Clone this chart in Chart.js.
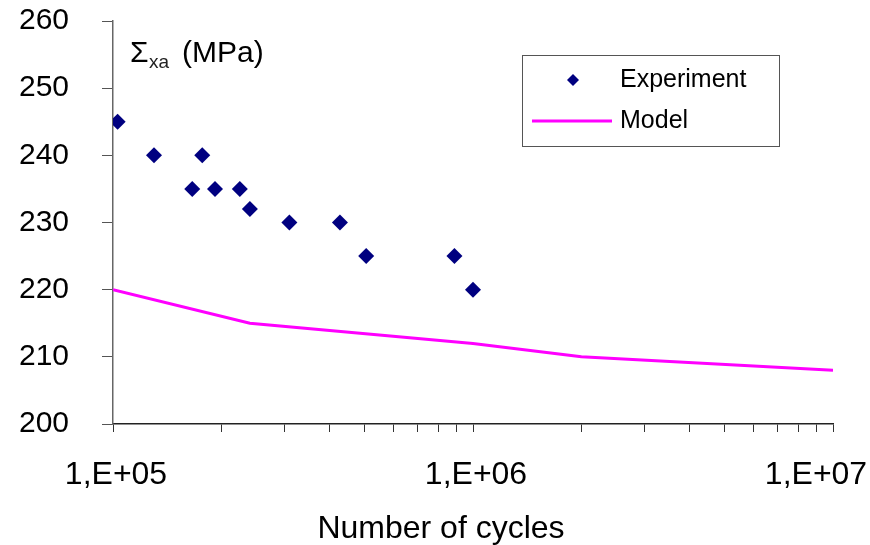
<!DOCTYPE html>
<html>
<head>
<meta charset="utf-8">
<script src="https://cdn.jsdelivr.net/npm/chart.js@4/dist/chart.umd.min.js"></script>
<style>
  html, body { margin: 0; padding: 0; background: #fff; }
  #wrap { width: 870px; height: 545px; }
</style>
</head>
<body>
<div id="wrap"><canvas id="c" width="870" height="545"></canvas></div>
<script>
// ---- data ----
const expCycles = [1.03e5, 1.30e5, 1.66e5, 1.77e5, 1.92e5, 2.25e5, 2.40e5, 3.09e5, 4.27e5, 5.05e5, 8.88e5, 1.0e6];
const expStress = [245, 240, 235, 240, 235, 235, 232, 230, 230, 225, 225, 220];
const modelCycles = [1e5, 2.4e5, 1e6, 2e6, 1e7];
const modelStress = [220, 215, 212, 210, 208];
const xMajorTicks = [1e5, 1e6, 1e7];
const xTickLabels = ['1,E+05', '1,E+06', '1,E+07'];
const xMinorMultipliers = [2, 3, 4, 5, 6, 7, 8, 9];
const yTicks = [200, 210, 220, 230, 240, 250, 260];
const seriesNames = ['Experiment', 'Model'];
const xTitle = 'Number of cycles';

const FONT = "'Liberation Sans', Arial, sans-serif";
Chart.defaults.font.family = FONT;
Chart.defaults.color = '#000';

// keep the last x tick label inside the canvas, as in the reference
const lastLabelShift = {
  id: 'lastLabelShift',
  beforeDraw(chart) {
    const items = chart.scales.x.getLabelItems();
    items.forEach(it => {
      if (it.label === xTickLabels[xTickLabels.length - 1]) {
        it.options.translation[0] -= 20;
      }
    });
  }
};

const legendPlugin = {
  id: 'boxLegend',
  afterDraw(chart) {
    const ctx = chart.ctx;
    ctx.save();
    // legend box
    ctx.strokeStyle = '#555';
    ctx.lineWidth = 1;
    ctx.strokeRect(522.5, 55.5, 257, 91);
    const ds = chart.data.datasets;
    // experiment marker
    ctx.fillStyle = ds[0].backgroundColor;
    const mx = 573, my = 80, r = 6;
    ctx.beginPath();
    ctx.moveTo(mx, my - r); ctx.lineTo(mx + r, my); ctx.lineTo(mx, my + r); ctx.lineTo(mx - r, my);
    ctx.closePath(); ctx.fill();
    // model line
    ctx.strokeStyle = ds[1].borderColor;
    ctx.lineWidth = ds[1].borderWidth;
    ctx.beginPath(); ctx.moveTo(532, 121); ctx.lineTo(612, 121); ctx.stroke();
    ctx.fillStyle = '#000';
    ctx.font = '25px ' + FONT;
    ctx.textBaseline = 'middle';
    ctx.textAlign = 'left';
    ctx.fillText(ds[0].label, 620, 80);
    ctx.fillText(ds[1].label, 620, 121);
    // y axis title: Sigma_xa (MPa)
    ctx.textBaseline = 'alphabetic';
    ctx.font = '30px ' + FONT;
    ctx.fillText('\u03A3', 130, 62);
    ctx.fillStyle = '#222';
    ctx.font = '19px ' + FONT;
    ctx.fillText('xa', 149, 68);
    ctx.fillStyle = '#000';
    ctx.font = '30px ' + FONT;
    ctx.fillText('(MPa)', 182, 62);
    // x axis title
    ctx.font = '32px ' + FONT;
    ctx.textAlign = 'center';
    ctx.textBaseline = 'alphabetic';
    ctx.fillText(xTitle, 441, 538);
    ctx.restore();
  }
};

new Chart(document.getElementById('c'), {
  type: 'scatter',
  data: {
    datasets: [
      {
        label: seriesNames[0],
        data: expCycles.map((x, i) => ({ x: x, y: expStress[i] })),
        showLine: false,
        pointStyle: 'rectRot',
        pointRadius: 8,
        pointHoverRadius: 8,
        backgroundColor: '#000080',
        borderColor: '#000080',
        borderWidth: 0
      },
      {
        label: seriesNames[1],
        data: modelCycles.map((x, i) => ({ x: x, y: modelStress[i] })),
        showLine: true,
        pointRadius: 0,
        borderColor: '#ff00ff',
        backgroundColor: '#ff00ff',
        borderWidth: 3,
        tension: 0
      }
    ]
  },
  options: {
    responsive: false,
    animation: false,
    devicePixelRatio: 1,
    layout: { padding: { top: 21, right: 37, left: 0, bottom: 0 } },
    plugins: { legend: { display: false }, tooltip: { enabled: false } },
    scales: {
      x: {
        type: 'logarithmic',
        min: 1e5,
        max: 1e7,
        afterBuildTicks(scale) {
          const t = [];
          for (let i = 0; i < xMajorTicks.length; i++) {
            t.push({ value: xMajorTicks[i], major: true });
            if (i < xMajorTicks.length - 1) {
              xMinorMultipliers.forEach(m => t.push({ value: xMajorTicks[i] * m }));
            }
          }
          scale.ticks = t;
        },
        afterFit(scale) {
          scale.height = 121;
          scale.paddingLeft = 0;
          scale.paddingRight = 0;
        },
        ticks: {
          autoSkip: false,
          maxRotation: 0,
          minRotation: 0,
          padding: 24,
          labelOffset: 3,
          font: { size: 32 },
          color: '#000',
          callback(value) {
            const i = xMajorTicks.indexOf(value);
            return i >= 0 ? xTickLabels[i] : '';
          }
        },
        grid: {
          display: true,
          drawOnChartArea: false,
          drawTicks: true,
          tickLength: 8,
          color: '#333',
          tickColor: '#333'
        },
        border: { display: true, color: '#222', width: 1.5 },
        title: { display: false, text: xTitle }
      },
      y: {
        min: 200,
        max: 260,
        afterBuildTicks(scale) {
          scale.ticks = yTicks.map(v => ({ value: v }));
        },
        afterFit(scale) {
          scale.width = 113;
          scale.paddingTop = 0;
          scale.paddingBottom = 0;
        },
        ticks: {
          padding: 33,
          font: { size: 30 },
          color: '#000',
          callback(value) { return String(value); }
        },
        grid: {
          display: true,
          drawOnChartArea: false,
          drawTicks: true,
          tickLength: 11,
          color: '#555',
          tickColor: '#555'
        },
        border: { display: true, color: '#666', width: 1.5 }
      }
    }
  },
  plugins: [lastLabelShift, legendPlugin]
});
</script>
</body>
</html>
